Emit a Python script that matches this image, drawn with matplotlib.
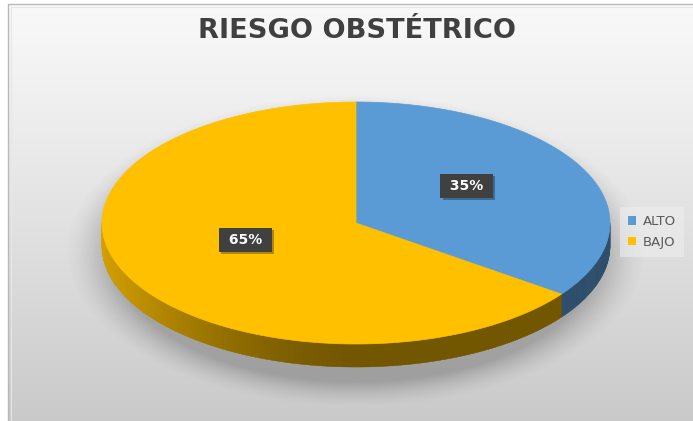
import numpy as np
import matplotlib
matplotlib.use("Agg")
import matplotlib.pyplot as plt
from matplotlib.patches import Polygon, Patch
from matplotlib import patheffects

# Data
categories = ["ALTO", "BAJO"]
values = [35, 65]
colors = ["#5b9bd5", "#ffc000"]
title = "RIESGO OBSTÉTRICO"

W, H = 693, 421
fig = plt.figure(figsize=(W / 100, H / 100), dpi=100)
ax = fig.add_axes([0, 0, 1, 1])
ax.set_xlim(0, W)
ax.set_ylim(H, 0)
ax.axis("off")
fig.patch.set_facecolor("white")

# Chart-area background: vertical gradient, light at top, grey at bottom
x0, y0 = 8, 4
grad = np.linspace(0, 1, 256)[:, None]
top_c = np.array([0.975, 0.975, 0.975])
bot_c = np.array([0.79, 0.79, 0.79])
bg = top_c + (bot_c - top_c) * grad[..., None] ** 1.1
bg = np.repeat(bg, 4, axis=1)
ax.imshow(bg, extent=(x0, W, H, y0), aspect="auto", zorder=0, interpolation="bilinear")
ax.plot([x0, x0, W], [H, y0, y0], color="#b8b8b8", lw=1.0, zorder=1)
ax.plot([x0 + 3, x0 + 3, W], [H, y0 + 3, y0 + 3], color="#e6e6e6", lw=0.8, zorder=1)

# Pie geometry (elliptical top face with a front wall)
cx, cy = 356, 223
a, b = 254, 121
depth = 23
label_r = 0.49
label_lift = 10

# Soft shadow underneath the pie
gx, gy = np.meshgrid(np.arange(W) + 0.5, np.arange(H) + 0.5)
d = np.sqrt(((gx - cx) / (a + 8)) ** 2 + ((gy - (cy + 28)) / (b + 20)) ** 2)
alpha = 0.40 * np.clip((1.11 - d) / 0.18, 0, 1) ** 1.5
shadow = np.zeros((H, W, 4))
shadow[..., :3] = 0.35
shadow[..., 3] = alpha
ax.imshow(shadow, extent=(0, W, H, 0), aspect="auto", zorder=2, interpolation="bilinear")


def ell(phi):
    return cx + a * np.sin(phi), cy - b * np.cos(phi)


fracs = np.array(values, dtype=float) / np.sum(values)
bounds = np.concatenate([[0], np.cumsum(fracs)]) * 2 * np.pi

# Front walls (visible half: phi from 90 to 270 degrees), lit from the left
for i, col in enumerate(colors):
    lo = max(bounds[i], np.pi / 2)
    hi = min(bounds[i + 1], 3 * np.pi / 2)
    if hi <= lo:
        continue
    phis = np.linspace(lo, hi, max(int((hi - lo) / 0.01), 2))
    rgb = np.array(matplotlib.colors.to_rgb(col))
    for p1, p2 in zip(phis[:-1], phis[1:]):
        pm = 0.5 * (p1 + p2)
        shade = 0.45 + 0.38 * max(-np.sin(pm), 0) ** 1.6
        if i == 0:
            shade += 0.05
        c = np.clip(rgb * shade, 0, 1)
        xa, ya = ell(p1)
        xb, yb = ell(p2 + 0.004)
        poly = Polygon([(xa, ya), (xb, yb), (xb, yb + depth), (xa, ya + depth)],
                       closed=True, facecolor=c, edgecolor=c, lw=0.3, zorder=3)
        ax.add_patch(poly)

# Top faces
for i, col in enumerate(colors):
    phis = np.linspace(bounds[i], bounds[i + 1], 200)
    xs, ys = ell(phis)
    pts = [(cx, cy)] + list(zip(xs, ys))
    ax.add_patch(Polygon(pts, closed=True, facecolor=col, edgecolor=col, lw=0.5, zorder=4))

# Percentage labels in dark boxes with a soft drop shadow
for i, v in enumerate(values):
    pm = 0.5 * (bounds[i] + bounds[i + 1])
    lx = cx + label_r * a * np.sin(pm)
    ly = cy - label_r * b * np.cos(pm) - label_lift
    t = ax.text(lx, ly, f" {v}% ", ha="center", va="center", fontsize=10,
                fontweight="bold", family="DejaVu Sans", color="white", zorder=6,
                bbox=dict(boxstyle="square,pad=0.35", facecolor="#404040", edgecolor="none"))
    t.get_bbox_patch().set_path_effects([
        patheffects.SimplePatchShadow(offset=(1.5, -1.5), shadow_rgbFace="black", alpha=0.3),
        patheffects.Normal(),
    ])

# Title
ax.text(357, 31, title, ha="center", va="center", fontsize=19.6, fontweight="bold",
        family="DejaVu Sans", color="#404040", zorder=6)

# Legend
handles = [Patch(facecolor=c, edgecolor="none", label=l) for c, l in zip(colors, categories)]
leg = ax.legend(handles=handles, loc="center left", bbox_to_anchor=(613 / W, 1 - 232 / H),
                frameon=True, handlelength=0.65, handleheight=0.6,
                handletextpad=0.5, labelspacing=0.6, borderpad=0.6,
                prop={"family": "DejaVu Sans", "size": 9.5})
leg.get_frame().set_facecolor("#eeeeee")
leg.get_frame().set_edgecolor("none")
leg.get_frame().set_alpha(0.6)
leg.get_frame().set_boxstyle("square,pad=0")
for txt in leg.get_texts():
    txt.set_color("#595959")
leg.set_zorder(7)

fig.savefig("out.png", dpi=100)
